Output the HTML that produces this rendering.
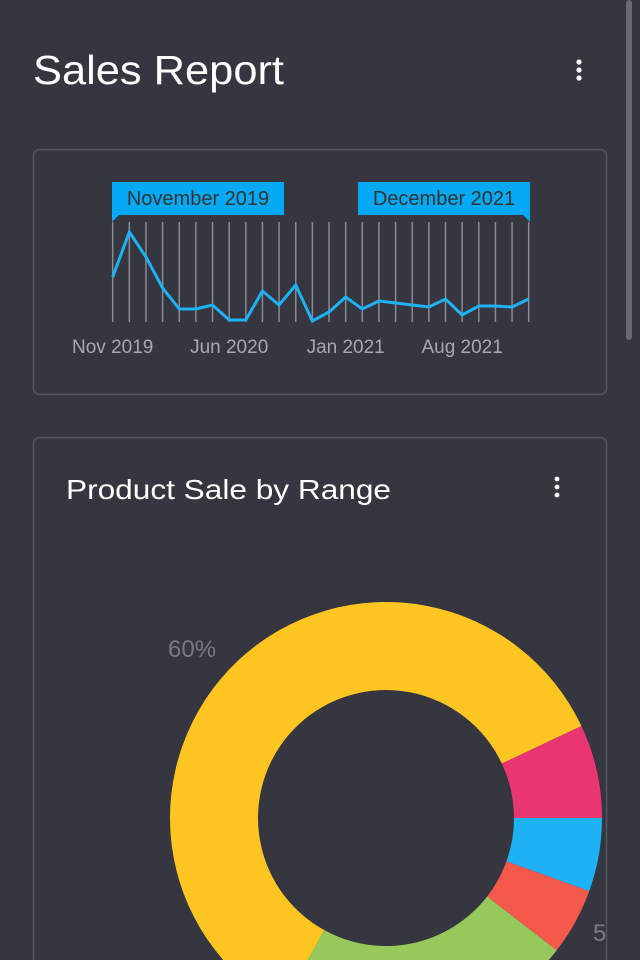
<!DOCTYPE html>
<html><head><meta charset="utf-8"><style>
html,body{margin:0;padding:0;background:#363640;width:640px;height:960px;overflow:hidden}
svg{display:block}
text{font-family:"Liberation Sans",sans-serif}
</style></head><body>
<svg id="s" width="640" height="960" viewBox="0 0 640 960">
<rect x="0" y="0" width="640" height="960" fill="#363640"/>
<text x="33" y="84" font-size="41" fill="#fff" textLength="251" lengthAdjust="spacingAndGlyphs">Sales Report</text>
<g fill="#fff"><circle cx="579" cy="62" r="2.6"/><circle cx="579" cy="70" r="2.6"/><circle cx="579" cy="78" r="2.6"/></g>
<rect x="626" y="0" width="6" height="340" rx="3" fill="#6a6a72"/>
<rect x="33.5" y="149.5" width="573" height="245" rx="6" fill="none" stroke="#55555e" stroke-width="1.5"/>
<g id="grid"></g>
<g id="line"></g>
<g id="xlabels"></g>
<g>
<rect x="112" y="182" width="172" height="33" fill="#03a9f4"/><polygon points="112,215 119,215 112,222" fill="#03a9f4"/>
<text x="198" y="205" font-size="20" fill="#333" text-anchor="middle">November 2019</text></g>
<g>
<rect x="358" y="182" width="172" height="33" fill="#03a9f4"/><polygon points="530,215 523,215 530,222" fill="#03a9f4"/>
<text x="444" y="205" font-size="20" fill="#333" text-anchor="middle">December 2021</text></g>
<path d="M33.5,960 V443.5 a6,6 0 0 1 6,-6 H600.5 a6,6 0 0 1 6,6 V960" fill="none" stroke="#55555e" stroke-width="1.5"/>
<text x="66" y="499" font-size="28" fill="#fff" textLength="325" lengthAdjust="spacingAndGlyphs">Product Sale by Range</text>
<g fill="#fff"><circle cx="557" cy="479" r="2.4"/><circle cx="557" cy="487" r="2.4"/><circle cx="557" cy="495" r="2.4"/></g>
<g id="donut"></g>
<text x="168" y="657" font-size="24" fill="#7a7a80">60%</text>
<text x="593" y="941" font-size="24" fill="#7a7a80">5</text>
</svg>
<script>
const months = ["Nov 2019","Dec 2019","Jan 2020","Feb 2020","Mar 2020","Apr 2020","May 2020","Jun 2020","Jul 2020","Aug 2020","Sep 2020","Oct 2020","Nov 2020","Dec 2020","Jan 2021","Feb 2021","Mar 2021","Apr 2021","May 2021","Jun 2021","Jul 2021","Aug 2021","Sep 2021","Oct 2021","Nov 2021","Dec 2021"];
const sales = [45,90,65,34,13,13,17,2,2,31,17,37,1,10,25,13,21,19,17,15,23,7,16,16,15,23];
const tickLabels = ["Nov 2019","Jun 2020","Jan 2021","Aug 2021"];
const sliceNames = ["Yellow","Pink","Blue","Red","Green"];
const sliceValues = [60,7,5.5,5,22.5];
const sliceColors = ["#ffc622","#ea3573","#1cb2f5","#f5594b","#97c85c"];
const NS="http://www.w3.org/2000/svg";
function mk(t,a,p){const e=document.createElementNS(NS,t);for(const k in a)e.setAttribute(k,a[k]);p.appendChild(e);return e;}
const x0=112.7,x1=528.7;
const xs=i=>x0+(x1-x0)*i/(months.length-1);
const ys=v=>322-v*1.0;
const grid=document.getElementById('grid');
months.forEach((m,i)=>{const l=mk('line',{x1:xs(i),x2:xs(i),y1:222,y2:322,stroke:'#8a8a92','stroke-width':1.5},grid);

});
const pl=mk('polyline',{points:sales.map((v,i)=>xs(i)+','+ys(v)).join(' '),fill:'none',stroke:'#1cb2f5','stroke-width':3,'stroke-linejoin':'miter'},document.getElementById('line'));


const xl=document.getElementById('xlabels');
tickLabels.forEach(t=>{const i=months.indexOf(t);const e=mk('text',{x:xs(i),y:353,'font-size':19,fill:'#a8a8ae','text-anchor':'middle'},xl);e.textContent=t;

});
const cx=386,cy=818,R=216,r=128;
const total=sliceValues.reduce((a,b)=>a+b,0);
let a=118.8*Math.PI/180;
const dg=document.getElementById('donut');
sliceValues.forEach((v,i)=>{const b=a+v/total*2*Math.PI;const lg=(b-a)>Math.PI?1:0;
const P=(ang,rad)=>(cx+rad*Math.cos(ang)).toFixed(2)+','+(cy+rad*Math.sin(ang)).toFixed(2);
const d='M'+P(a,R)+' A'+R+','+R+' 0 '+lg+' 1 '+P(b,R)+' L'+P(b,r)+' A'+r+','+r+' 0 '+lg+' 0 '+P(a,r)+'Z';
const e=mk('path',{d:d,fill:sliceColors[i]},dg);


a=b;});
</script>
</body></html>
